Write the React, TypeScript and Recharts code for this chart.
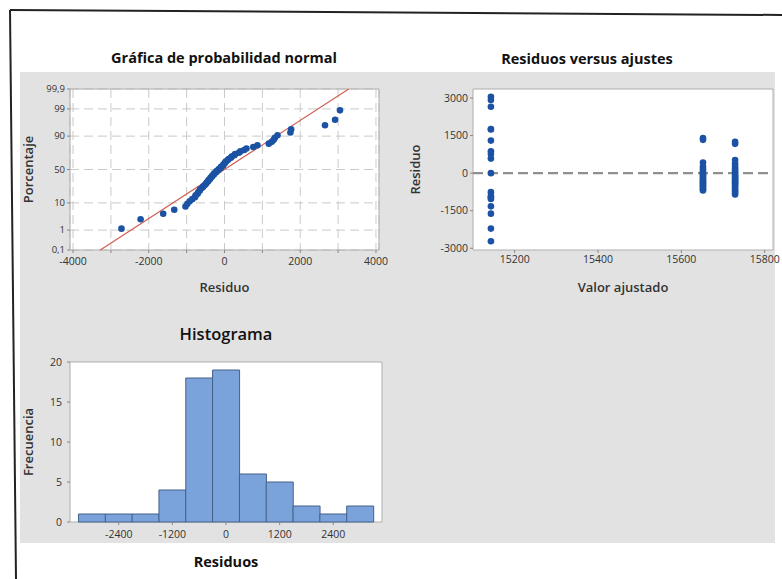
import {
  ScatterChart,
  Scatter,
  BarChart,
  Bar,
  XAxis,
  YAxis,
  CartesianGrid,
  ReferenceLine,
  ReferenceArea,
  Label,
} from "recharts";

// fitted values (three groups) and the residuals read at each one
const fittedLevels = [15143, 15652, 15729];
const residLow = [3050, 2920, 2654, 1760, 1740, 1300, 870, 760, 580, 0, -760, -920, -980, -1030, -1327, -1619, -2216, -2720];
const residMid = [1400, 1330, 420, 260, 170, 90, 20, -40, -90, -150, -210, -270, -320, -370, -420, -470, -520, -580, -640, -690];
const residHigh = [1250, 1170, 520, 380, 280, 190, 110, 40, -30, -100, -160, -220, -280, -330, -380, -430, -490, -560, -650, -710, -780, -850];

// histogram
const histMids = [-3000, -2400, -1800, -1200, -600, 0, 600, 1200, 1800, 2400, 3000];
const histCounts = [1, 1, 1, 4, 18, 19, 6, 5, 2, 1, 2];

// normal probability axis
const probTicks = [0.1, 1, 10, 50, 90, 99, 99.9];
const probLabels = ["0,1", "1", "10", "50", "90", "99", "99,9"];
const fitLineEnds = [
  { resid: -3280, pct: 0.1 },
  { resid: 3280, pct: 99.9 },
];

const normalXTicks = [-4000, -3000, -2000, -1000, 0, 1000, 2000, 3000, 4000];
const fitXTicks = [15200, 15400, 15600, 15800];
const residTicks = [-3000, -1500, 0, 1500, 3000];
const histXTicks = [-2400, -1200, 0, 1200, 2400];
const freqTicks = [0, 5, 10, 15, 20];

const BLUE = "#1b52a3";
const BORDER = "#aeaeae";

// inverse normal cdf (Acklam) for the probability scale
function probit(p: number): number {
  const a = [-39.69683028665376, 220.9460984245205, -275.9285104469687, 138.357751867269, -30.66479806614716, 2.506628277459239];
  const b = [-54.47609879822406, 161.5858368580409, -155.6989798598866, 66.80131188771972, -13.28068155288572];
  const c = [-0.007784894002430293, -0.3223964580411365, -2.400758277161838, -2.549732539343734, 4.374664141464968, 2.938163982698783];
  const d = [0.007784695709041462, 0.3224671290700398, 2.445134137142996, 3.754408661907416];
  const tail = (q: number) =>
    (((((c[0] * q + c[1]) * q + c[2]) * q + c[3]) * q + c[4]) * q + c[5]) /
    ((((d[0] * q + d[1]) * q + d[2]) * q + d[3]) * q + 1);
  if (p < 0.02425) return tail(Math.sqrt(-2 * Math.log(p)));
  if (p > 1 - 0.02425) return -tail(Math.sqrt(-2 * Math.log(1 - p)));
  const q = p - 0.5;
  const r = q * q;
  return (
    ((((((a[0] * r + a[1]) * r + a[2]) * r + a[3]) * r + a[4]) * r + a[5]) * q) /
    (((((b[0] * r + b[1]) * r + b[2]) * r + b[3]) * r + b[4]) * r + 1)
  );
}

const zTicks = probTicks.map((p) => probit(p / 100));
const zMin = zTicks[0];
const zMax = zTicks[zTicks.length - 1];

const allResid = [...residLow, ...residMid, ...residHigh].sort((a, b) => a - b);
const normalData = allResid.map((r, i) => ({
  resid: r,
  z: probit((i + 1 - 0.3) / (allResid.length + 0.4)),
}));

const fitData = [residLow, residMid, residHigh].flatMap((arr, g) =>
  arr.map((r) => ({ fit: fittedLevels[g], resid: r }))
);

const histData = histMids.map((m, i) => ({ mid: m, count: histCounts[i] }));

const tickStyle = { fill: "#333", fontSize: 10.5 };
const axisTitle = { fill: "#333", fontSize: 13, fontWeight: 600 };

const Dot = (props: any) => <circle cx={props.cx} cy={props.cy} r={3.3} fill={BLUE} />;

const title = (text: string, x: number, y: number, size: number, weight: number) => (
  <div
    style={{
      position: "absolute",
      left: x,
      top: y,
      transform: "translate(-50%, -50%)",
      fontSize: size,
      fontWeight: weight,
      whiteSpace: "nowrap",
      color: "#111",
    }}
  >
    {text}
  </div>
);

const App = () => {
  return (
    <div
      style={{
        position: "absolute",
        left: 0,
        top: 0,
        width: 782,
        height: 579,
        overflow: "hidden",
        background: "#fff",
        fontFamily: '"Open Sans", sans-serif',
      }}
    >
      <div style={{ position: "absolute", left: 20, top: 72, width: 755, height: 471, background: "#e2e2e2" }} />
      <svg style={{ position: "absolute", left: 0, top: 0 }} width={782} height={579}>
        <line x1={10} y1={10} x2={782} y2={15} stroke="#222" strokeWidth={2} />
        <line x1={10} y1={10} x2={16} y2={579} stroke="#222" strokeWidth={2} />
      </svg>

      {title("Gráfica de probabilidad normal", 224, 57, 14.5, 700)}
      {title("Residuos versus ajustes", 587, 58, 14.5, 700)}
      {title("Histograma", 226, 333, 16.5, 600)}

      <div style={{ position: "absolute", left: 10, top: 72 }}>
        <ScatterChart width={390} height={230} margin={{ top: 17, right: 21, bottom: 7, left: 10 }}>
          <CartesianGrid fill="#fff" stroke="#cacaca" strokeDasharray="9 5" />
          <XAxis
            type="number"
            dataKey="resid"
            domain={[-4080, 4080]}
            allowDataOverflow
            ticks={normalXTicks}
            interval={0}
            tickFormatter={(v: number) => (v % 2000 === 0 ? String(v) : "")}
            height={45}
            axisLine={false}
            tickSize={3}
            tickMargin={5}
            stroke="#888"
            tick={tickStyle}
          >
            <Label value="Residuo" position="insideBottom" offset={3} style={axisTitle} />
          </XAxis>
          <YAxis
            type="number"
            dataKey="z"
            domain={[zMin, zMax]}
            allowDataOverflow
            ticks={zTicks}
            interval={0}
            tickFormatter={(v: number) => probLabels[zTicks.findIndex((t) => Math.abs(t - v) < 1e-6)] ?? ""}
            width={50}
            axisLine={false}
            tickSize={3}
            tickMargin={2}
            stroke="#888"
            tick={{ ...tickStyle, fontSize: 9.5 }}
          >
            <Label value="Porcentaje" angle={-90} position="insideLeft" offset={8} style={{ ...axisTitle, textAnchor: "middle" }} />
          </YAxis>
          <ReferenceLine
            segment={fitLineEnds.map((e) => ({ x: e.resid, y: probit(e.pct / 100) }))}
            stroke="#cf5f52"
            strokeWidth={1.2}
          />
          <Scatter data={normalData} shape={Dot} isAnimationActive={false} />
          <ReferenceArea x1={-4080} x2={4080} y1={zMin} y2={zMax} fill="none" stroke={BORDER} ifOverflow="visible" />
        </ScatterChart>
      </div>

      <div style={{ position: "absolute", left: 390, top: 72 }}>
        <ScatterChart width={410} height={230} margin={{ top: 17, right: 27, bottom: 7, left: 10 }}>
          <CartesianGrid fill="#fff" horizontal={false} vertical={false} />
          <XAxis
            type="number"
            dataKey="fit"
            domain={[15100, 15820]}
            allowDataOverflow
            ticks={fitXTicks}
            interval={0}
            height={45}
            axisLine={false}
            tickSize={3}
            tickMargin={3}
            stroke="#888"
            tick={tickStyle}
          >
            <Label value="Valor ajustado" position="insideBottom" offset={3} style={axisTitle} />
          </XAxis>
          <YAxis
            type="number"
            dataKey="resid"
            domain={[-3070, 3360]}
            allowDataOverflow
            ticks={residTicks}
            interval={0}
            width={73}
            axisLine={false}
            tickSize={3}
            tickMargin={2}
            stroke="#888"
            tick={tickStyle}
          >
            <Label value="Residuo" angle={-90} position="insideLeft" offset={15} style={{ ...axisTitle, textAnchor: "middle" }} />
          </YAxis>
          <ReferenceLine y={0} stroke="#8f8f8f" strokeWidth={2.2} strokeDasharray="10 5" />
          <Scatter data={fitData} shape={Dot} isAnimationActive={false} />
          <ReferenceArea x1={15100} x2={15820} y1={-3070} y2={3360} fill="none" stroke={BORDER} ifOverflow="visible" />
        </ScatterChart>
      </div>

      <div style={{ position: "absolute", left: 10, top: 340 }}>
        <BarChart
          width={390}
          height={239}
          data={histData}
          margin={{ top: 22, right: 18, bottom: 7, left: 10 }}
          barCategoryGap={0}
          barGap={0}
        >
          <CartesianGrid fill="#fff" horizontal={false} vertical={false} />
          <XAxis
            type="number"
            dataKey="mid"
            domain={[-3490, 3490]}
            allowDataOverflow
            ticks={histXTicks}
            interval={0}
            height={50}
            axisLine={false}
            tickSize={3}
            tickMargin={6}
            stroke="#888"
            tick={tickStyle}
          >
            <Label value="Residuos" position="insideBottom" offset={5} style={{ fill: "#111", fontSize: 14.5, fontWeight: 700 }} />
          </XAxis>
          <YAxis
            type="number"
            domain={[0, 20]}
            ticks={freqTicks}
            interval={0}
            width={50}
            axisLine={false}
            tickSize={3}
            tickMargin={5}
            stroke="#888"
            tick={tickStyle}
          >
            <Label value="Frecuencia" angle={-90} position="insideLeft" offset={8} style={{ ...axisTitle, textAnchor: "middle" }} />
          </YAxis>
          <Bar dataKey="count" fill="#79a3da" stroke="#44618a" strokeWidth={1} isAnimationActive={false} />
          <ReferenceArea x1={-3490} x2={3490} y1={0} y2={20} fill="none" stroke={BORDER} ifOverflow="visible" />
        </BarChart>
      </div>
    </div>
  );
};

export default App;
